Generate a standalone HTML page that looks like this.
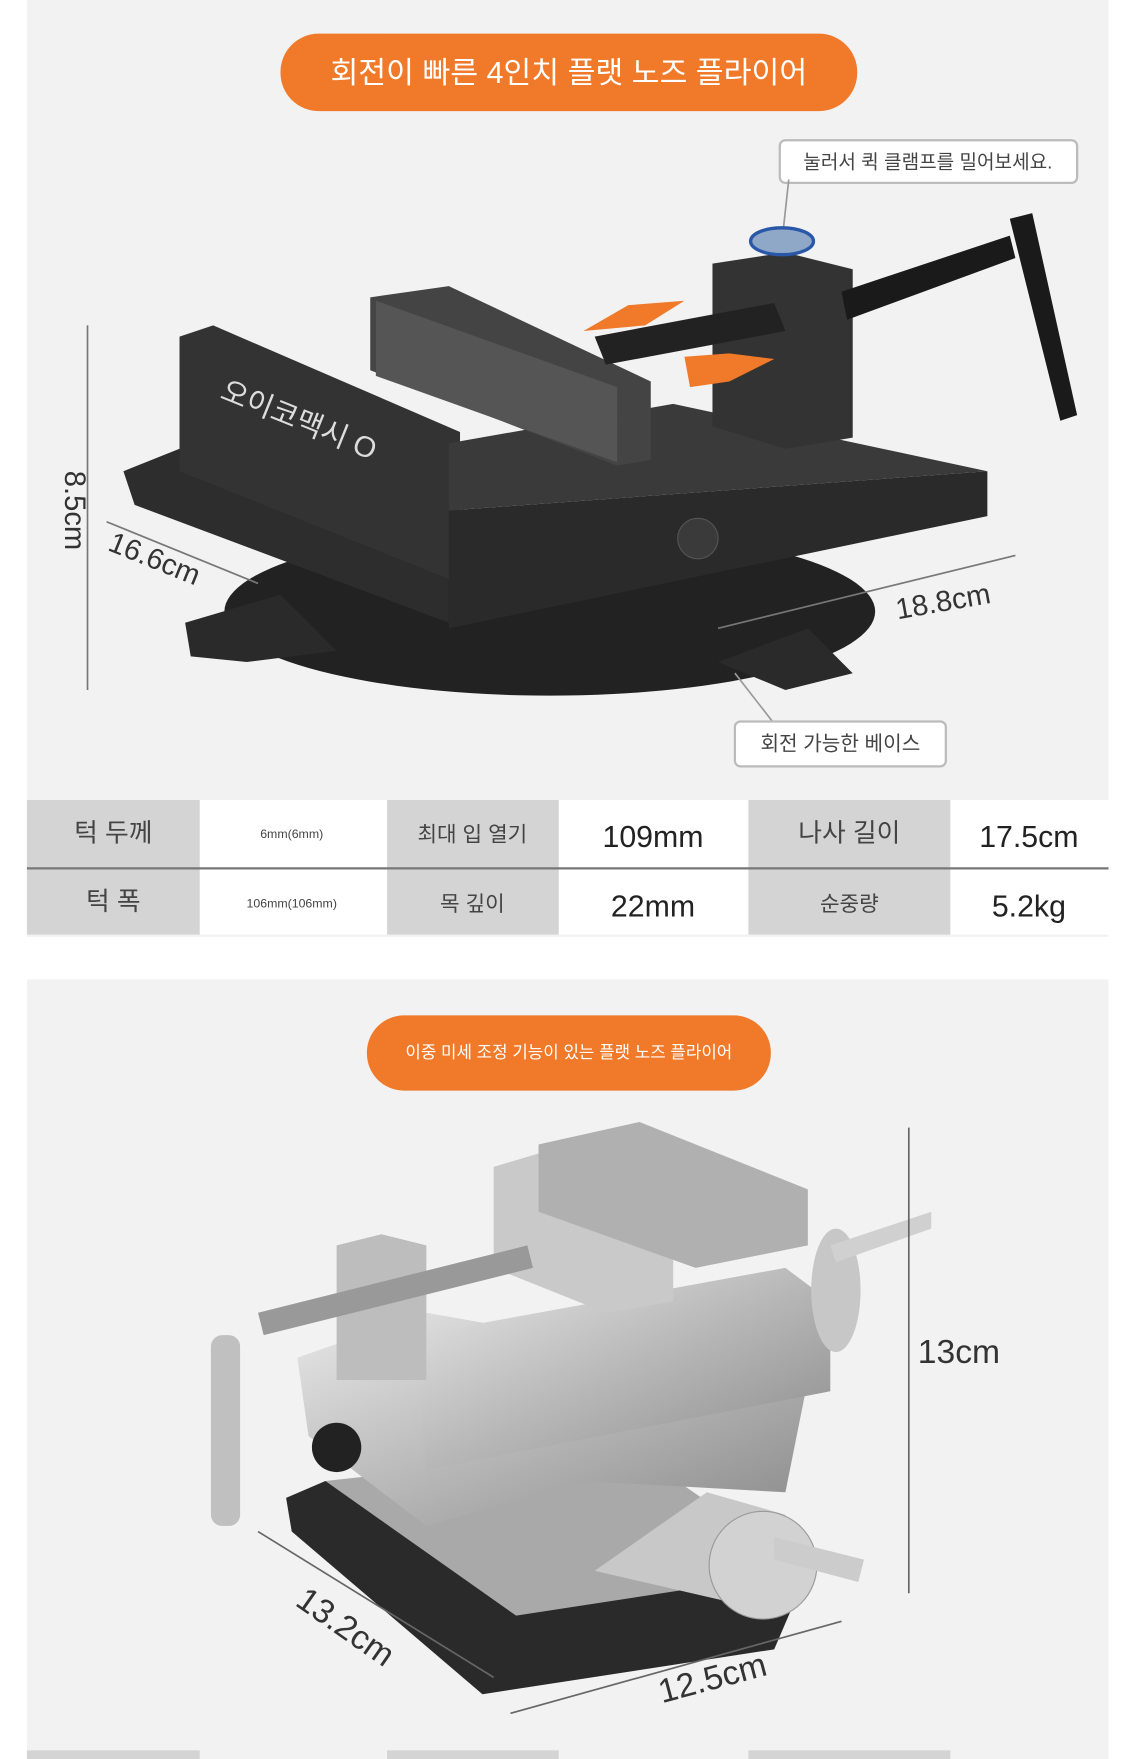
<!DOCTYPE html>
<html><head><meta charset="utf-8"><style>
html,body{margin:0;padding:0;background:#fff;}
svg{display:block;}
text{font-family:"Liberation Sans","Noto Sans CJK KR",sans-serif;}
</style></head><body>
<svg width="1136" height="1759" viewBox="0 0 1136 1759" xmlns="http://www.w3.org/2000/svg">
<defs>
<linearGradient id="sil" x1="0" y1="0" x2="1" y2="1"><stop offset="0" stop-color="#e8e8e8"/><stop offset="0.5" stop-color="#b8b8b8"/><stop offset="1" stop-color="#8a8a8a"/></linearGradient>
</defs>
<rect width="1136" height="1759" fill="#fff"/>
<g transform="scale(1.122,1.122)">
<rect x="24" y="0" width="964" height="835" fill="#f2f2f2"/>
<rect x="250" y="30" width="514" height="69" rx="34" fill="#f07a2a"/>
<text x="507" y="74" font-size="27" fill="#fff" text-anchor="middle">회전이 빠른 4인치 플랫 노즈 플라이어</text>
<rect x="695" y="125" width="265" height="38" rx="5" fill="#fff" stroke="#bbb" stroke-width="2"/>
<text x="827" y="150" font-size="17" fill="#444" text-anchor="middle">눌러서 퀵 클램프를 밀어보세요.</text>
<line x1="703" y1="160" x2="697" y2="215" stroke="#999" stroke-width="1.5"/>
<ellipse cx="490" cy="545" rx="290" ry="75" fill="#222"/>
<polygon points="165,555 250,530 300,580 220,590 170,585" fill="#2a2a2a"/>
<polygon points="640,590 720,560 760,600 700,615" fill="#2a2a2a"/>
<polygon points="110,420 160,400 400,440 400,555 120,450" fill="#2d2d2d"/>
<polygon points="160,300 190,290 410,385 410,520 160,420" fill="#333"/>
<polygon points="400,455 880,420 880,460 400,560" fill="#2a2a2a"/>
<polygon points="400,395 600,360 880,420 400,455" fill="#3a3a3a"/>
<polygon points="330,265 400,255 580,340 580,410 550,415 330,330" fill="#444"/>
<polygon points="335,268 550,345 550,412 335,335" fill="#555"/>
<polygon points="635,235 700,225 760,240 760,390 700,400 635,380" fill="#333"/>
<polygon points="530,300 690,270 700,295 540,325" fill="#222"/>
<polygon points="750,260 900,210 905,230 755,285" fill="#1a1a1a"/>
<polygon points="900,195 920,190 960,370 945,375" fill="#1a1a1a"/>
<ellipse cx="697" cy="215" rx="28" ry="12" fill="#8fa8c8" stroke="#2a58a8" stroke-width="3"/>
<polygon points="520,295 560,272 610,268 575,290" fill="#f07a2a"/>
<polygon points="610,318 650,315 690,320 650,340 615,345" fill="#f07a2a"/>
<text x="195" y="355" font-size="26" fill="#ddd" transform="rotate(22 195 355)">오이코맥시 O</text>
<circle cx="622" cy="480" r="18" fill="#3a3a3a" stroke="#555"/>
<line x1="78" y1="290" x2="78" y2="615" stroke="#777" stroke-width="1.5"/>
<text x="58" y="455" font-size="26" fill="#333" text-anchor="middle" transform="rotate(90 58 455)">8.5cm</text>
<line x1="95" y1="465" x2="230" y2="520" stroke="#777" stroke-width="1.5"/>
<text x="95" y="490" font-size="26" fill="#333" transform="rotate(22 95 490)">16.6cm</text>
<line x1="640" y1="560" x2="905" y2="495" stroke="#777" stroke-width="1.5"/>
<text x="800" y="552" font-size="26" fill="#333" transform="rotate(-10 800 552)">18.8cm</text>
<line x1="655" y1="600" x2="690" y2="645" stroke="#999" stroke-width="1.5"/>
<rect x="655" y="643" width="188" height="40" rx="5" fill="#fff" stroke="#bbb" stroke-width="2"/>
<text x="749" y="669" font-size="18" fill="#444" text-anchor="middle">회전 가능한 베이스</text>
<rect x="24" y="713" width="964" height="120" fill="#fff"/>
<rect x="24" y="713" width="154" height="120" fill="#d4d4d4"/>
<rect x="345" y="713" width="153" height="120" fill="#d4d4d4"/>
<rect x="667" y="713" width="180" height="120" fill="#d4d4d4"/>
<line x1="24" y1="774" x2="988" y2="774" stroke="#777" stroke-width="2"/>
<g fill="#444" text-anchor="middle">
<text x="101" y="750" font-size="23">턱 두께</text>
<text x="260" y="747" font-size="11">6mm(6mm)</text>
<text x="421" y="750" font-size="19">최대 입 열기</text>
<text x="582" y="755" font-size="27" fill="#222">109mm</text>
<text x="757" y="750" font-size="23">나사 길이</text>
<text x="917" y="755" font-size="27" fill="#222">17.5cm</text>
<text x="101" y="811" font-size="23">턱 폭</text>
<text x="260" y="809" font-size="11">106mm(106mm)</text>
<text x="421" y="812" font-size="19">목 깊이</text>
<text x="582" y="817" font-size="27" fill="#222">22mm</text>
<text x="757" y="812" font-size="19">순중량</text>
<text x="917" y="817" font-size="27" fill="#222">5.2kg</text>
</g>
<rect x="24" y="873" width="964" height="695" fill="#f2f2f2"/>
<rect x="327" y="905" width="360" height="67" rx="33" fill="#f07a2a"/>
<text x="507" y="943" font-size="15" fill="#fff" text-anchor="middle">이중 미세 조정 기능이 있는 플랫 노즈 플라이어</text>
<polygon points="255,1335 290,1320 720,1400 690,1470 430,1510 260,1365" fill="#2a2a2a"/>
<polygon points="290,1320 560,1290 720,1400 460,1440" fill="#a9a9a9"/>
<polygon points="265,1210 380,1170 720,1230 700,1330 520,1320 380,1360 275,1280" fill="url(#sil)"/>
<polygon points="370,1190 700,1130 740,1160 740,1240 380,1310" fill="url(#sil)"/>
<polygon points="440,1040 540,1010 600,1030 600,1160 540,1170 440,1130" fill="#c9c9c9"/>
<polygon points="480,1020 570,1000 720,1060 720,1110 620,1130 480,1080" fill="#b0b0b0"/>
<polygon points="300,1110 340,1100 380,1110 380,1230 300,1230" fill="#bdbdbd"/>
<polygon points="230,1170 470,1110 475,1130 235,1190" fill="#999"/>
<rect x="188" y="1190" width="26" height="170" rx="10" fill="#c0c0c0"/>
<circle cx="300" cy="1290" r="22" fill="#222"/>
<polygon points="530,1400 630,1330 700,1350 660,1430" fill="#c8c8c8"/>
<circle cx="680" cy="1395" r="48" fill="#d2d2d2" stroke="#999"/>
<polygon points="690,1370 770,1390 765,1410 690,1390" fill="#ccc"/>
<ellipse cx="745" cy="1150" rx="22" ry="55" fill="#c7c7c7"/>
<polygon points="740,1110 830,1080 830,1095 745,1125" fill="#d0d0d0"/>
<line x1="810" y1="1005" x2="810" y2="1420" stroke="#666" stroke-width="1.5"/>
<text x="818" y="1215" font-size="30" fill="#333">13cm</text>
<line x1="230" y1="1365" x2="440" y2="1495" stroke="#666" stroke-width="1.5"/>
<text x="262" y="1430" font-size="30" fill="#333" transform="rotate(35 262 1430)">13.2cm</text>
<line x1="455" y1="1527" x2="750" y2="1445" stroke="#666" stroke-width="1.5"/>
<text x="590" y="1518" font-size="30" fill="#333" transform="rotate(-15 590 1518)">12.5cm</text>
<rect x="24" y="1560" width="154" height="10" fill="#d4d4d4"/>
<rect x="345" y="1560" width="153" height="10" fill="#d4d4d4"/>
<rect x="667" y="1560" width="180" height="10" fill="#d4d4d4"/>
</g>
</svg>
</body></html>
